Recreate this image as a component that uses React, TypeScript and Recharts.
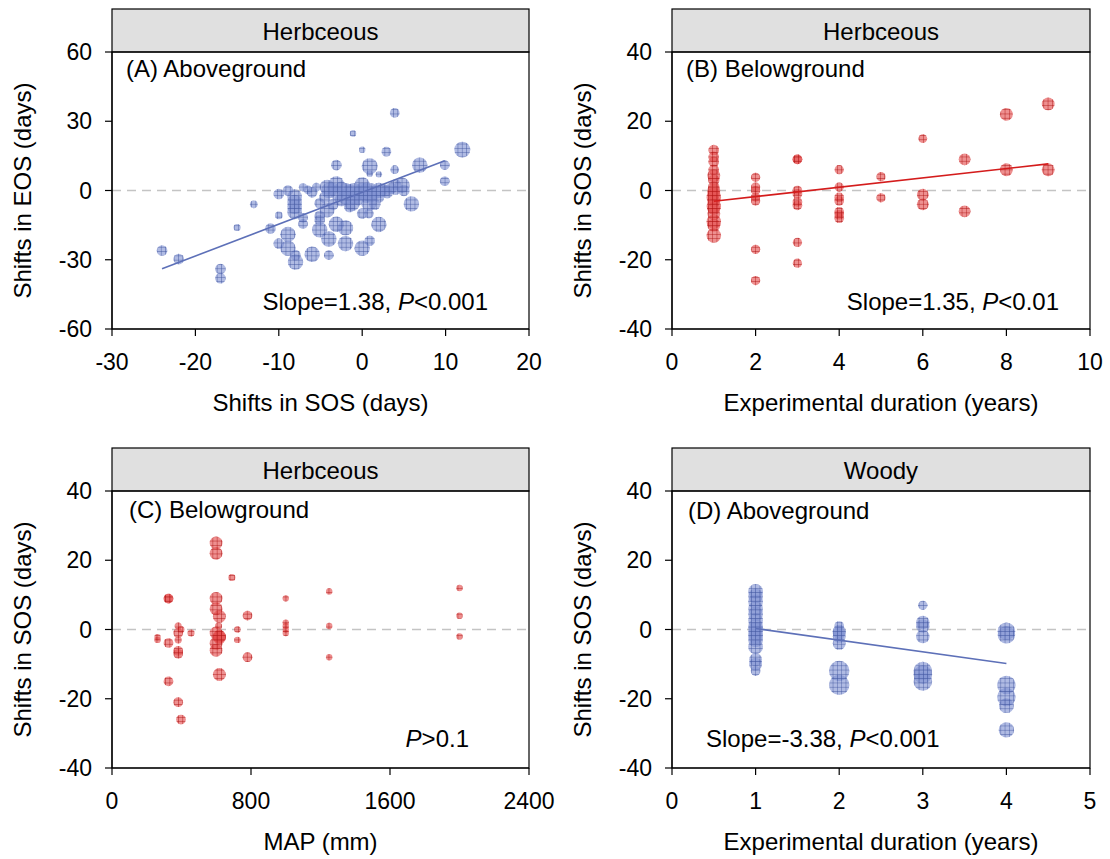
import React from "react";
import { ScatterChart, Scatter, XAxis, YAxis, ReferenceLine } from "recharts";

const FONT = '"Liberation Sans", Arial, Helvetica, sans-serif';

const BLUE = "#7f91d2";
const BLUE_GRID = "#3e529c";
const BLUE_LINE = "#5d70b8";
const RED = "#e44c4c";
const RED_GRID = "#a80c0c";
const RED_LINE = "#d41c1c";

// [x, y, weight]; weight drives the marker area
type Pt = [number, number, number];

// (A) herbaceous, aboveground: shift in SOS vs shift in EOS
const herbAbove: Pt[] = [
  [-24, -26, 1.8], [-22, -29.7, 1.8], [-17, -34, 1.8], [-17, -38, 1.8],
  [-15, -16, 1.1], [-13, -6, 1.2], [-11, -16.5, 1.8], [-10, -10.8, 1.2],
  [-10, -1.5, 1.8], [-10, -23, 1.8], [-8.9, 0, 1.8], [-8.9, -19, 3.2],
  [-8.9, -25, 3.2], [-8.1, -2.7, 3], [-8.1, -5, 3], [-8.1, -7, 3],
  [-8.1, -9.2, 3], [-8, -28, 1.8], [-8, -31, 3.2], [-7.1, 1.4, 1.3],
  [-7.1, -11.8, 1.6], [-7.1, -14.5, 1.6], [-6, -0.8, 1.8], [-6, -27.6, 3.2],
  [-6.5, 0.3, 1.4], [-5.5, 1.5, 1.4], [-5.1, -5.5, 1.8], [-5.1, -11, 1.8],
  [-5.1, -12.8, 1.8], [-5.1, -17, 3.2], [-4.2, -8.5, 3], [-4.5, -3, 2],
  [-4, 0, 3.2], [-4.2, 1.5, 3], [-4, -21, 3.2], [-4, -28, 1.6],
  [-3.5, -6, 2], [-3.5, 0.5, 2.5], [-3.1, 3, 3], [-3.1, 11, 1.8],
  [-3.1, -14.6, 3.2], [-3, -1, 3], [-2.5, 1, 2.5], [-2.5, -4, 2.5],
  [-2, -2.7, 3.2], [-2, -16.2, 3.2], [-2, -23, 3.2], [-2, 0, 3],
  [-1.5, 0, 2.5], [-1.5, -7, 2], [-1.2, -5.5, 3.2], [-1.1, 24.7, 1],
  [-1, 0, 3], [-1, -3, 3], [-0.5, -1, 2.5], [-0.5, -4, 2],
  [0, 2.4, 3.2], [0, 0, 3.2], [0, -1, 3], [0, -10, 1.8],
  [0, -25, 3.2], [0, 17.7, 1], [0.5, 0.5, 2.5], [0.5, -3, 2],
  [0.8, -5.5, 3.2], [0.8, -10, 1.6], [0.9, 10.5, 3.4], [0.9, 7.3, 1],
  [1, 0, 3], [1, -2, 3], [0.9, -21.8, 1.8], [1.5, -1, 2.5],
  [1.5, -6, 2], [2, 7, 1], [2, 0, 3.2], [2, -3, 1.8],
  [2, -14.7, 3.2], [2.5, 0.5, 2], [2.9, 16.8, 1.6], [2.9, 0, 2],
  [3, -1, 2], [3.5, 1, 2], [3.9, 33.6, 1.6], [3.9, 9, 1.4],
  [4, 2.4, 2], [4, 0, 1.5], [4.8, 2.2, 3.2], [5, 0, 2],
  [5.9, -5.8, 3.2], [6.9, 11, 3.2], [9.9, 11, 1.6], [9.9, 4, 1.6],
  [12, 17.7, 3.4],
];
const herbAboveFit: [number, number][] = [[-24, -33.9], [9.9, 12.9]];

// (B) herbaceous, belowground: experimental duration vs shift in SOS
const herbBelowYears: Pt[] = [
  [1, 11.7, 1.8], [1, 9.7, 1.8], [1, 8.3, 1.8], [1, 6, 1.8], [1, 4.3, 2.4],
  [1, 3, 2], [1, 1, 2], [1, 0, 2.4], [1, -1, 2.4], [1, -2, 2.9],
  [1, -3, 2.4], [1, -4.5, 2.9], [1, -5.2, 2.4], [1, -6.7, 2.4], [1, -9, 2.9],
  [1, -10, 2.4], [1, -13, 2.9],
  [2, 3.8, 1.5], [2, 1, 1.5], [2, 0, 1.5], [2, -1.9, 1.5], [2, -3, 1.5],
  [2, -17, 1.5], [2, -26, 1.5],
  [3, 9, 1.6], [3, 9, 1.6], [3, 0, 1.6], [3, -1, 1.6], [3, -3.3, 1.6],
  [3, -4.3, 1.6], [3, -15, 1.5], [3, -21, 1.5],
  [4, 6, 1.5], [4, 1, 1.5], [4, -2, 1.6], [4, -3, 1.6], [4, -6.2, 1.6],
  [4, -7, 1.6], [4, -8, 1.6],
  [5, 4, 1.5], [5, -2.1, 1.5],
  [6, 15, 1.4], [6, -1.2, 2.1], [6, -4, 2.1],
  [7, 9, 2.1], [7, -6, 2.1],
  [8, 22, 2.4], [8, 6, 2.4],
  [9, 25, 2.4], [9, 6, 2.4],
];
const herbBelowYearsFit: [number, number][] = [[1, -3.1], [9, 7.7]];

// (C) herbaceous, belowground: MAP vs shift in SOS
const herbBelowMap: Pt[] = [
  [262, -2.2, 1], [262, -3, 1], [325, 8.9, 1.6], [325, 8.9, 1.6],
  [325, -3.9, 1.6], [325, -15, 1.6], [381, 1, 1.1], [381, -1, 1.6],
  [397, 0, 1.1], [381, -3, 1.1], [381, -6.2, 1.6], [381, -7, 1.6],
  [381, -21, 1.6], [397, -26, 1.6], [455, -1, 1.1],
  [599, 25, 2.4], [599, 22, 2.4], [690, 15, 1.1], [599, 9, 2.4],
  [599, 6, 2.4], [618, 3.8, 2.4], [613, 1, 1.1], [599, -1, 2.4],
  [618, -2, 2.4], [618, -2, 2.4], [618, -2.4, 2.4], [599, -4, 2.4],
  [599, -6, 2.4], [618, -13, 2.4], [722, 0, 1], [722, -3, 1],
  [780, 4, 1.6], [780, -8, 1.6],
  [1000, 9, 1], [1000, 2, 1], [1000, 1, 1], [1000, 0, 1], [1000, -1, 1],
  [1250, 11, 1], [1250, 1, 1], [1250, -8, 1],
  [2000, 12, 1], [2000, 4, 1], [2000, -2, 1],
];

// (D) woody, aboveground: experimental duration vs shift in SOS
const woodyAbove: Pt[] = [
  [1, 11, 3], [1, 9.7, 3], [1, 8, 3], [1, 6, 3], [1, 4.5, 3],
  [1, 2.6, 3], [1, 1, 3], [1, 0, 3], [1, -1, 3], [1, -2, 3],
  [1, -3, 3], [1, -5, 3], [1, -8.7, 2.4], [1, -10, 2.4], [1, -12, 1.6],
  [2, 1, 1.6], [2, -0.5, 2.4], [2, -1, 2.4], [2, -2, 2.4], [2, -4, 2.4],
  [2, -12, 5.2], [2, -16, 5.2],
  [3, 7, 1.5], [3, 2, 2.6], [3, 1, 2.6], [3, -2, 2.6],
  [3, -12, 4.4], [3, -13, 4.4], [3, -15, 4.4],
  [4, -0.5, 4], [4, -1.5, 4], [4, -16, 4.4], [4, -19.5, 4.4],
  [4, -22, 3], [4, -29, 3.2],
];
const woodyAboveFit: [number, number][] = [[1, 0.3], [4, -9.8]];

const AXIS_W = 112;

type PanelDef = {
  left: number;
  top: number;
  width: number;
  height: number;
  plotTop: number;
  plotRight: number;
  plotBottom: number;
  xDomain: [number, number];
  xTicks: number[];
  yDomain: [number, number];
  yTicks: number[];
  xLabel: string;
  yLabel: string;
  xLabelOffset: number;
  points: Pt[];
  fit?: [number, number][];
  kind: "blue" | "red";
};

const panels: PanelDef[] = [
  {
    left: 0, top: 0, width: 560, height: 440, plotTop: 52, plotRight: 529, plotBottom: 329,
    xDomain: [-30, 20], xTicks: [-30, -20, -10, 0, 10, 20],
    yDomain: [-60, 60], yTicks: [-60, -30, 0, 30, 60],
    xLabel: "Shifts in SOS (days)", yLabel: "Shifts in EOS (days)", xLabelOffset: 29,
    points: herbAbove, fit: herbAboveFit, kind: "blue",
  },
  {
    left: 560, top: 0, width: 550, height: 440, plotTop: 52, plotRight: 530, plotBottom: 329,
    xDomain: [0, 10], xTicks: [0, 2, 4, 6, 8, 10],
    yDomain: [-40, 40], yTicks: [-40, -20, 0, 20, 40],
    xLabel: "Experimental duration (years)", yLabel: "Shifts in SOS (days)", xLabelOffset: 29,
    points: herbBelowYears, fit: herbBelowYearsFit, kind: "red",
  },
  {
    left: 0, top: 440, width: 560, height: 419, plotTop: 51, plotRight: 529, plotBottom: 328,
    xDomain: [0, 2400], xTicks: [0, 800, 1600, 2400],
    yDomain: [-40, 40], yTicks: [-40, -20, 0, 20, 40],
    xLabel: "MAP (mm)", yLabel: "Shifts in SOS (days)", xLabelOffset: 9,
    points: herbBelowMap, kind: "red",
  },
  {
    left: 560, top: 440, width: 550, height: 419, plotTop: 51, plotRight: 530, plotBottom: 328,
    xDomain: [0, 5], xTicks: [0, 1, 2, 3, 4, 5],
    yDomain: [-40, 40], yTicks: [-40, -20, 0, 20, 40],
    xLabel: "Experimental duration (years)", yLabel: "Shifts in SOS (days)", xLabelOffset: 9,
    points: woodyAbove, fit: woodyAboveFit, kind: "blue",
  },
];

const headers = ["Herbceous", "Herbceous", "Herbceous", "Woody"];

// marker area grows linearly with the weight
const radiusOf = (w: number) => Math.sqrt((32 + (w - 1) * 70) / Math.PI);

const makeDot = (fill: string, pattern: string) => (props: any) => {
  const { cx, cy, payload } = props;
  if (cx == null || cy == null) return <g />;
  const r = radiusOf(payload?.w ?? 1);
  return (
    <g>
      <circle cx={cx} cy={cy} r={r} fill={fill} fillOpacity={0.62} />
      <circle cx={cx} cy={cy} r={r} fill={`url(#${pattern})`} />
    </g>
  );
};

const blueDot = makeDot(BLUE, "gridBlue");
const redDot = makeDot(RED, "gridRed");

const tickStyle = { fontSize: 23, fill: "#000", fontFamily: FONT };

function Panel({ p }: { p: PanelDef }) {
  const rows = p.points.map(([x, y, w]) => ({ x, y, w }));
  const fitRows = (p.fit ?? []).map(([x, y]) => ({ x, y }));
  const lineColor = p.kind === "blue" ? BLUE_LINE : RED_LINE;
  return (
    <div style={{ position: "absolute", left: p.left, top: p.top }}>
      <ScatterChart
        width={p.width}
        height={p.height}
        margin={{ top: p.plotTop, right: p.width - p.plotRight, bottom: 0, left: 0 }}
        style={{ fontFamily: FONT }}
      >
        <XAxis
          type="number"
          dataKey="x"
          domain={p.xDomain}
          ticks={p.xTicks}
          allowDataOverflow
          height={p.height - p.plotBottom}
          tickSize={7}
          tickMargin={18}
          tick={tickStyle}
          stroke="#000"
          strokeWidth={1.2}
          label={{ value: p.xLabel, position: "insideBottom", offset: p.xLabelOffset, fontSize: 24, fill: "#000" }}
        />
        <YAxis
          type="number"
          dataKey="y"
          domain={p.yDomain}
          ticks={p.yTicks}
          allowDataOverflow
          width={AXIS_W}
          tickSize={7}
          tickMargin={13}
          tick={tickStyle}
          stroke="#000"
          strokeWidth={1.2}
          label={{
            value: p.yLabel,
            angle: -90,
            position: "insideLeft",
            offset: 22,
            fontSize: 24,
            fill: "#000",
            style: { textAnchor: "middle" },
          }}
        />
        <ReferenceLine y={0} stroke="#c4c4c4" strokeWidth={1.3} strokeDasharray="9 6" />
        <Scatter
          data={rows}
          shape={p.kind === "blue" ? blueDot : redDot}
          isAnimationActive={false}
        />
        {fitRows.length > 0 && (
          <Scatter
            data={fitRows}
            line={{ stroke: lineColor, strokeWidth: 1.6 }}
            shape={() => <g />}
            isAnimationActive={false}
          />
        )}
      </ScatterChart>
    </div>
  );
}

type Note = { x: number; y: number; anchor: "start" | "end"; parts: [string, boolean][] };

const notes: Note[] = [
  { x: 126, y: 77, anchor: "start", parts: [["(A) Aboveground", false]] },
  { x: 488, y: 310, anchor: "end", parts: [["Slope=1.38, ", false], ["P", true], ["<0.001", false]] },
  { x: 686, y: 77, anchor: "start", parts: [["(B) Belowground", false]] },
  { x: 1059, y: 310, anchor: "end", parts: [["Slope=1.35, ", false], ["P", true], ["<0.01", false]] },
  { x: 129, y: 518, anchor: "start", parts: [["(C) Belowground", false]] },
  { x: 469, y: 747, anchor: "end", parts: [["P", true], [">0.1", false]] },
  { x: 688, y: 519, anchor: "start", parts: [["(D) Aboveground", false]] },
  { x: 706, y: 747, anchor: "start", parts: [["Slope=-3.38, ", false], ["P", true], ["<0.001", false]] },
];

export default function App() {
  return (
    <div
      style={{
        position: "absolute",
        left: 0,
        top: 0,
        width: 1110,
        height: 859,
        background: "#fff",
        fontFamily: FONT,
        overflow: "hidden",
      }}
    >
      {panels.map((p, i) => (
        <Panel key={i} p={p} />
      ))}
      <svg
        width={1110}
        height={859}
        style={{ position: "absolute", left: 0, top: 0, pointerEvents: "none" }}
      >
        <defs>
          <pattern id="gridBlue" width={4.3} height={4.3} patternUnits="userSpaceOnUse">
            <path d="M0 2.15H4.3M2.15 0V4.3" stroke={BLUE_GRID} strokeWidth={0.7} strokeOpacity={0.6} fill="none" />
          </pattern>
          <pattern id="gridRed" width={4.3} height={4.3} patternUnits="userSpaceOnUse">
            <path d="M0 2.15H4.3M2.15 0V4.3" stroke={RED_GRID} strokeWidth={0.7} strokeOpacity={0.6} fill="none" />
          </pattern>
        </defs>
        {panels.map((p, i) => {
          const x0 = p.left + AXIS_W;
          const x1 = p.left + p.plotRight;
          const y0 = p.top + p.plotTop;
          const y1 = p.top + p.plotBottom;
          const hTop = y0 - 43;
          return (
            <g key={i}>
              <rect x={x0} y={hTop} width={x1 - x0} height={y0 - hTop} fill="#e0e0e0" stroke="#000" strokeWidth={1.2} />
              <text x={(x0 + x1) / 2} y={hTop + 30.5} textAnchor="middle" fontSize={24} fill="#000">
                {headers[i]}
              </text>
              <rect x={x0} y={y0} width={x1 - x0} height={y1 - y0} fill="none" stroke="#000" strokeWidth={1.2} />
            </g>
          );
        })}
        {notes.map((n, i) => (
          <text key={i} x={n.x} y={n.y} textAnchor={n.anchor} fontSize={24} fill="#000">
            {n.parts.map(([t, it], j) => (
              <tspan key={j} fontStyle={it ? "italic" : "normal"}>
                {t}
              </tspan>
            ))}
          </text>
        ))}
      </svg>
    </div>
  );
}
